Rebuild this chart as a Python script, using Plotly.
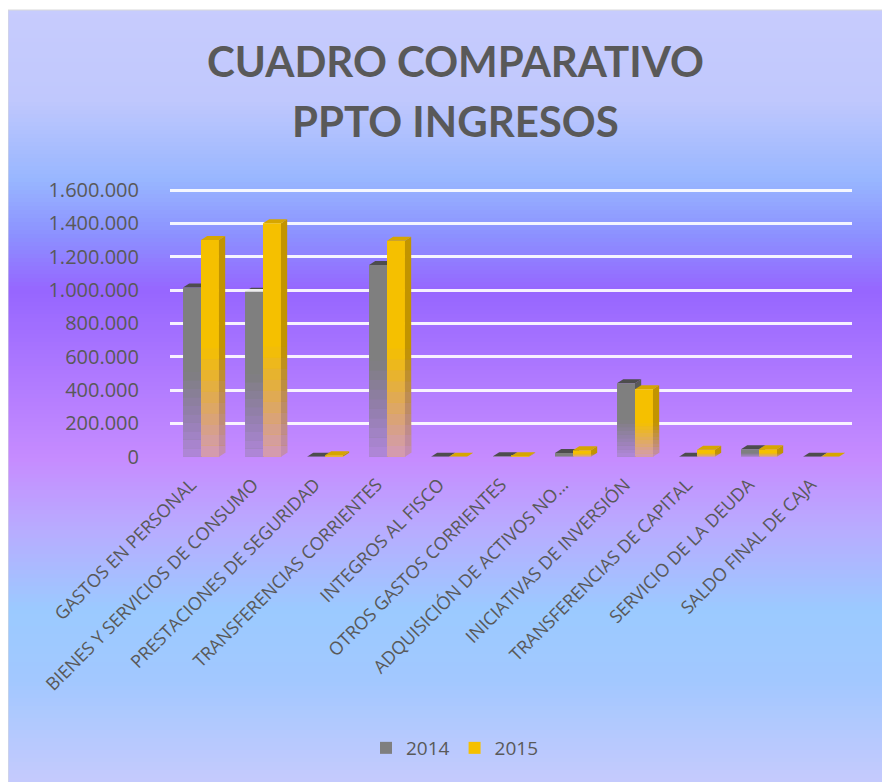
import plotly.graph_objects as go

categories = [
    "GASTOS EN PERSONAL",
    "BIENES Y SERVICIOS DE CONSUMO",
    "PRESTACIONES DE SEGURIDAD",
    "TRANSFERENCIAS CORRIENTES",
    "INTEGROS AL FISCO",
    "OTROS GASTOS CORRIENTES",
    "ADQUISICIÓN DE ACTIVOS NO…",
    "INICIATIVAS DE INVERSIÓN",
    "TRANSFERENCIAS DE CAPITAL",
    "SERVICIO DE LA DEUDA",
    "SALDO FINAL DE CAJA",
]
values_2014 = [1015000, 990000, 0, 1150000, 0, 2000, 22000, 440000, 0, 45000, 0]
values_2015 = [1300000, 1400000, 8000, 1295000, 0, 3000, 38000, 405000, 42000, 45000, 0]
y_ticks = [0, 200000, 400000, 600000, 800000, 1000000, 1200000, 1400000, 1600000]

# the page body has an 8px margin, so the figure is sized to fill the rest of the window
OFF = 8
W, H = 890 - OFF, 782 - OFF
TEXT = "#595959"
FONT = "Open Sans"


def px(X):
    return (X - OFF) / W


def py(Y):
    return 1 - (Y - OFF) / H


fig = go.Figure()
fig.add_trace(go.Bar(name="2014", x=categories, y=values_2014,
                     marker=dict(color="#7f7f7f", line=dict(width=0))))
fig.add_trace(go.Bar(name="2015", x=categories, y=values_2015,
                     marker=dict(color="#f5c000", line=dict(width=0))))

shapes = []
# background gradient bands (reference pixel stops)
stops = [
    (0, (200, 204, 253)), (100, (192, 200, 253)), (180, (152, 182, 255)),
    (235, (140, 145, 255)), (290, (150, 102, 255)), (380, (176, 122, 255)),
    (460, (198, 140, 255)), (530, (184, 172, 255)), (610, (155, 202, 255)),
    (680, (162, 200, 255)), (782, (197, 202, 253)),
]


def rgb_at(yy):
    for (y0, c0), (y1, c1) in zip(stops[:-1], stops[1:]):
        if y0 <= yy <= y1:
            t = (yy - y0) / (y1 - y0) if y1 > y0 else 0
            return tuple(round(a + (b - a) * t) for a, b in zip(c0, c1))
    return stops[-1][1]


def color_at(yy, alpha=1.0):
    r, g, b = rgb_at(yy)
    return f"rgba({r},{g},{b},{alpha:.3f})"


top_px = 10
step = 4
for yy in range(top_px, 782, step):
    shapes.append(dict(type="rect", xref="paper", yref="paper",
                       x0=-0.01, x1=1.01, y0=py(yy + step + 0.5), y1=py(yy),
                       fillcolor=color_at(yy + step / 2), line=dict(width=0), layer="below"))
shapes.append(dict(type="rect", xref="paper", yref="paper", x0=0.0, x1=1.01,
                   y0=-0.01, y1=py(top_px), line=dict(color="#d9d9d9", width=1),
                   fillcolor="rgba(0,0,0,0)", layer="below"))

y_top = 1610000
zero_px, top_grid_px = 456.7, 190.0
per_px = 1600000 / (zero_px - top_grid_px)
dom_top_px = zero_px - y_top / per_px

# pseudo-3D side and top faces computed from the data
bargap = 0.42
bw = (1 - bargap) / 2
dx = 0.1            # depth in category units
dy = 24000          # depth in value units
faces = [
    (values_2014, -bw, "#5a5a5a", "#4d4d4d", "below"),
    (values_2015, 0.0, "#c29400", "#d6a600", "above"),
]
for vals, off, side_col, top_col, layer in faces:
    for i, v in enumerate(vals):
        xl = i + off
        xr = xl + bw
        shapes.append(dict(type="path", xref="x", yref="y", layer=layer,
                           path=f"M {xr},0 L {xr+dx},{dy} L {xr+dx},{v+dy} L {xr},{v} Z",
                           fillcolor=side_col, line=dict(width=0)))
        shapes.append(dict(type="path", xref="x", yref="y", layer=layer,
                           path=f"M {xl},{v} L {xr},{v} L {xr+dx},{v+dy} L {xl+dx},{v+dy} Z",
                           fillcolor=top_col, line=dict(width=0)))

# soft fade of each bar's lower part into the background
nb = 10
for vals, off, extra in [(values_2014, -bw, 0.0), (values_2015, 0.0, dx)]:
    for i, v in enumerate(vals):
        hpx = v / per_px
        fpx = min(0.5 * hpx, 110)
        if fpx < 2:
            continue
        xl = i + off
        xr = xl + bw + extra
        for k in range(nb):
            a_px = fpx * k / nb
            b_px = fpx * (k + 1) / nb
            alpha = 0.72 * (1 - (k + 0.5) / nb)
            ymid = zero_px - (a_px + b_px) / 2
            shapes.append(dict(type="rect", xref="x", yref="y", layer="above",
                               x0=xl, x1=xr, y0=a_px * per_px, y1=b_px * per_px,
                               fillcolor=color_at(ymid, alpha), line=dict(width=0)))

fig.update_layout(
    width=W, height=H,
    margin=dict(l=0, r=0, t=0, b=0),
    paper_bgcolor="white",
    plot_bgcolor="rgba(0,0,0,0)",
    barmode="group",
    bargap=bargap,
    bargroupgap=0,
    separators=",.",
    font=dict(family=FONT, color=TEXT),
    shapes=shapes,
    showlegend=True,
    legend=dict(orientation="h", x=px(455), xanchor="center", y=py(748), yanchor="middle",
                font=dict(size=19, color=TEXT, family=FONT), bgcolor="rgba(0,0,0,0)",
                itemwidth=30, traceorder="normal"),
    annotations=[
        dict(text="<b>CUADRO COMPARATIVO</b>", xref="paper", yref="paper",
             x=px(455), y=py(61), xanchor="center", yanchor="middle", showarrow=False,
             font=dict(family="Lato", size=42, color=TEXT)),
        dict(text="<b>PPTO INGRESOS</b>", xref="paper", yref="paper",
             x=px(455), y=py(121), xanchor="center", yanchor="middle", showarrow=False,
             font=dict(family="Lato", size=42, color=TEXT)),
    ],
    xaxis=dict(domain=[px(170), px(852)], tickangle=-45, automargin=False,
               tickfont=dict(size=18, color=TEXT, family=FONT), showgrid=False,
               showline=False, ticks="", zeroline=False,
               ticklabelstandoff=13, ticklabelshift=-10),
    yaxis=dict(domain=[py(zero_px), py(dom_top_px)], range=[0, y_top], automargin=False,
               tickvals=y_ticks, tickformat=",.0f",
               tickfont=dict(size=20, color=TEXT, family=FONT),
               gridcolor="rgba(255,255,255,0.9)", gridwidth=2.5, zeroline=False,
               showline=False, ticks="", ticklabelstandoff=30),
)

fig.write_html("out.html")
